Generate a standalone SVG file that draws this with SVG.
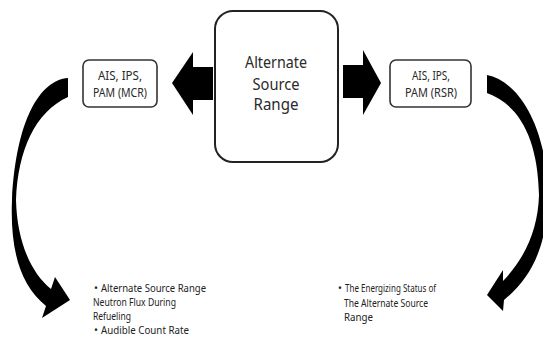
<svg xmlns="http://www.w3.org/2000/svg" width="543" height="340" viewBox="0 0 543 340">
<style>
.box{fill:#fff;stroke:#333;stroke-width:1.6}
.big{fill:#fff;stroke:#222;stroke-width:2}
.t{font-family:"Noto Sans","Open Sans",sans-serif;fill:#2a2a2a;text-anchor:middle}
.c{font-size:16px}
.s{font-size:12px}
.b{font-family:"Noto Sans","Open Sans",sans-serif;fill:#222;font-size:10.5px}
.arr{fill:#000}
</style>
<rect width="543" height="340" fill="#fff"/>
<g id="connectors">
<path class="arr" d="M213,67 L193,67 L193,52 L172,83 L193,115 L193,100 L213,100 Z"/>
<path class="arr" d="M343,65 L363,65 L363,50 L381,83 L363,115 L363,98 L343,98 Z"/>
<path class="arr" d="M68,78 C40,80 16,120 12,200 C10,250 20,285 46,306 L42,318 L70,300 L55,277 L51,289 C30,272 17,240 16,200 C18,150 35,112 68,97 Z"/>
<path class="arr" d="M487,75 C515,80 545,120 548,190 C548,240 535,275 504,300 L503,311 L487,295 L503,270 L503,281 C525,258 538,230 539,195 C538,140 520,105 487,93 Z"/>
</g>
<g id="center">
<rect class="big" x="215" y="11" width="123" height="151" rx="18"/>
<text class="t c" x="276" y="68" textLength="62" lengthAdjust="spacingAndGlyphs">Alternate</text>
<text class="t c" x="276" y="90" textLength="47" lengthAdjust="spacingAndGlyphs">Source</text>
<text class="t c" x="276" y="110" textLength="45" lengthAdjust="spacingAndGlyphs">Range</text>
</g>
<g id="mcr">
<rect class="box" x="83" y="60" width="74" height="47" rx="6"/>
<text class="t s" x="120" y="80" textLength="44" lengthAdjust="spacingAndGlyphs">AIS, IPS,</text>
<text class="t s" x="120" y="97" textLength="54" lengthAdjust="spacingAndGlyphs">PAM (MCR)</text>
</g>
<g id="rsr">
<rect class="box" x="390" y="60" width="81" height="47" rx="6"/>
<text class="t s" x="431" y="80" textLength="38" lengthAdjust="spacingAndGlyphs">AIS, IPS,</text>
<text class="t s" x="431" y="97" textLength="52" lengthAdjust="spacingAndGlyphs">PAM (RSR)</text>
</g>
<g id="mcr-list">
<text class="b" x="94" y="292">•</text>
<text class="b" x="101" y="292" textLength="105" lengthAdjust="spacingAndGlyphs">Alternate Source Range</text>
<text class="b" x="93" y="306" textLength="83" lengthAdjust="spacingAndGlyphs">Neutron Flux During</text>
<text class="b" x="93" y="320" textLength="38" lengthAdjust="spacingAndGlyphs">Refueling</text>
<text class="b" x="94" y="334">•</text>
<text class="b" x="101" y="334" textLength="88" lengthAdjust="spacingAndGlyphs">Audible Count Rate</text>
</g>
<g id="rsr-list">
<text class="b" x="338" y="292">•</text>
<text class="b" x="345" y="292" textLength="91" lengthAdjust="spacingAndGlyphs">The Energizing Status of</text>
<text class="b" x="344" y="307" textLength="84" lengthAdjust="spacingAndGlyphs">The Alternate Source</text>
<text class="b" x="344" y="321" textLength="29" lengthAdjust="spacingAndGlyphs">Range</text>
</g>
</svg>
